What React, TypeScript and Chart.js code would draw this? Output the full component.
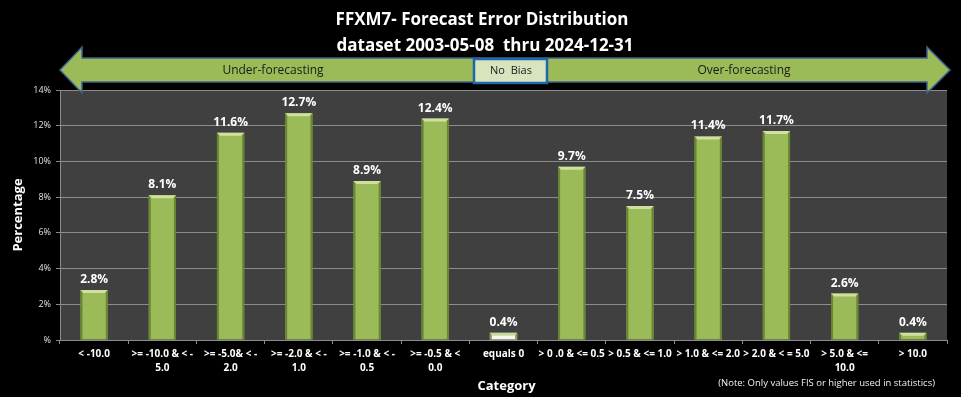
import React, { useEffect, useRef } from "react";
import { Chart, registerables } from "chart.js";

Chart.register(...registerables);

const categories: string[][] = [
  ["< -10.0"],
  [">= -10.0 & < -", "5.0"],
  [">= -5.0& < -", "2.0"],
  [">= -2.0 & < -", "1.0"],
  [">= -1.0 & < -", "0.5"],
  [">= -0.5 & <", "0.0"],
  ["equals 0"],
  ["> 0 .0 & <= 0.5"],
  ["> 0.5 & <= 1.0"],
  ["> 1.0 & <= 2.0"],
  ["> 2.0 & < = 5.0"],
  ["> 5.0 & <=", "10.0"],
  ["> 10.0"],
];
const percentages: number[] = [2.8, 8.1, 11.6, 12.7, 8.9, 12.4, 0.4, 9.7, 7.5, 11.4, 11.7, 2.6, 0.4];
const titleLines: string[] = ["FFXM7- Forecast Error Distribution", "dataset 2003-05-08  thru 2024-12-31"];
const yTicks: number[] = [0, 2, 4, 6, 8, 10, 12, 14];

const FONT = "'Open Sans', 'Noto Sans', sans-serif";
const GREEN = "#9BBB59";

const decorPlugin = {
  id: "decor",
  beforeDraw(chart: any) {
    const { ctx, chartArea } = chart;
    ctx.save();
    ctx.fillStyle = "#000";
    ctx.fillRect(0, 0, chart.width, chart.height);
    ctx.fillStyle = "#404040";
    ctx.fillRect(chartArea.left, chartArea.top, chartArea.right - chartArea.left, chartArea.bottom - chartArea.top);
    ctx.restore();
  },
  afterDatasetsDraw(chart: any) {
    const { ctx } = chart;
    const meta = chart.getDatasetMeta(0);
    ctx.save();
    meta.data.forEach((bar: any, i: number) => {
      const half = bar.width / 2;
      const x0 = bar.x - half;
      const x1 = bar.x + half;
      const top = bar.y;
      const bottom = bar.base;
      const isZero = i === 6;
      ctx.fillStyle = isZero ? "rgba(120,150,70,0.9)" : "rgba(95,125,45,0.85)";
      ctx.fillRect(x0, top, 2, bottom - top);
      ctx.fillRect(x1 - 2, top, 2, bottom - top);
      ctx.fillStyle = isZero ? "#C9DAA0" : "#CFE09F";
      ctx.beginPath();
      ctx.moveTo(x0, top);
      ctx.lineTo(x1, top);
      ctx.lineTo(x1 - 3, top + 3);
      ctx.lineTo(x0 + 3, top + 3);
      ctx.closePath();
      ctx.fill();
      ctx.fillStyle = "#FFFFFF";
      ctx.font = `bold 12px ${FONT}`;
      ctx.textAlign = "center";
      ctx.textBaseline = "alphabetic";
      ctx.fillText(percentages[i].toFixed(1) + "%", bar.x, top - 7);
    });
    ctx.restore();
  },
  afterDraw(chart: any) {
    const { ctx, chartArea } = chart;
    ctx.save();
    ctx.fillStyle = "#FFFFFF";
    ctx.textAlign = "center";
    ctx.textBaseline = "middle";
    ctx.font = `bold 17px ${FONT}`;
    ctx.fillText(titleLines[0], 482, 20);
    ctx.fillText(titleLines[1], 485, 46);

    const yc = 70;
    ctx.beginPath();
    ctx.moveTo(60, yc);
    ctx.lineTo(82, 47);
    ctx.lineTo(82, 58);
    ctx.lineTo(927, 58);
    ctx.lineTo(927, 47);
    ctx.lineTo(950, yc);
    ctx.lineTo(927, 93);
    ctx.lineTo(927, 82);
    ctx.lineTo(82, 82);
    ctx.lineTo(82, 93);
    ctx.closePath();
    ctx.fillStyle = GREEN;
    ctx.fill();
    ctx.strokeStyle = "#3E6190";
    ctx.lineWidth = 1.5;
    ctx.stroke();

    ctx.fillStyle = "#D7E4BD";
    ctx.fillRect(474, 59, 73, 24);
    ctx.strokeStyle = "#1F66AA";
    ctx.lineWidth = 2.5;
    ctx.strokeRect(474, 59, 73, 24);

    ctx.fillStyle = "#1A1A1A";
    ctx.font = `12px ${FONT}`;
    ctx.fillText("Under-forecasting", 273, 71);
    ctx.fillText("Over-forecasting", 744, 71);
    ctx.font = `11px ${FONT}`;
    ctx.fillText("No  Bias", 511, 71);

    ctx.fillStyle = "#FFFFFF";
    ctx.font = `bold 13px ${FONT}`;
    ctx.fillText("Category", (chartArea.left + chartArea.right) / 2 + 3, 386);
    ctx.save();
    ctx.translate(18, (chartArea.top + chartArea.bottom) / 2);
    ctx.rotate(-Math.PI / 2);
    ctx.fillText("Percentage", 0, 0);
    ctx.restore();

    ctx.font = `9.5px ${FONT}`;
    ctx.textAlign = "right";
    ctx.fillStyle = "#F2F2F2";
    ctx.fillText("(Note: Only values FIS or higher used in statistics)", 935, 383);
    ctx.restore();
  },
};

export default function App() {
  const ref = useRef<HTMLCanvasElement>(null);
  useEffect(() => {
    if (!ref.current) return;
    const chart = new Chart(ref.current, {
      type: "bar",
      data: {
        labels: categories,
        datasets: [
          {
            data: percentages,
            backgroundColor: percentages.map((_, i) => (i === 6 ? "#F4F7EC" : GREEN)),
            borderWidth: 0,
            barPercentage: 0.4,
            categoryPercentage: 1,
          },
        ],
      },
      options: {
        responsive: false,
        animation: false,
        layout: { padding: { top: 90, right: 14, left: 0, bottom: 0 } },
        plugins: { legend: { display: false }, tooltip: { enabled: false }, title: { display: false } },
        scales: {
          x: {
            grid: { drawOnChartArea: false, drawTicks: true, tickLength: 4, color: "#8C8C8C" },
            border: { display: true, color: "#8C8C8C" },
            ticks: {
              color: "#FFFFFF",
              font: { family: FONT, size: 10, weight: "bold", lineHeight: "14px" } as any,
              maxRotation: 0,
              minRotation: 0,
              autoSkip: false,
              padding: 3,
            },
            afterFit(scale: any) {
              scale.height = 57;
            },
          },
          y: {
            min: 0,
            max: 14,
            afterBuildTicks(scale: any) {
              scale.ticks = yTicks.map((v) => ({ value: v }));
            },
            grid: { color: "#8C8C8C", lineWidth: 1, tickLength: 4 },
            border: { display: true, color: "#8C8C8C" },
            ticks: {
              color: "#E0E0E0",
              font: { family: FONT, size: 9 },
              padding: 5,
              callback: (v: any) => (Number(v) === 0 ? "%" : v + "%"),
            },
            afterFit(scale: any) {
              scale.width = 60;
            },
          },
        },
      },
      plugins: [decorPlugin],
    });
    return () => chart.destroy();
  }, []);
  return (
    <div style={{ position: "fixed", left: 0, top: 0, width: 961, height: 397, background: "#000" }}>
      <canvas ref={ref} width={961} height={397} style={{ display: "block" }} />
    </div>
  );
}
